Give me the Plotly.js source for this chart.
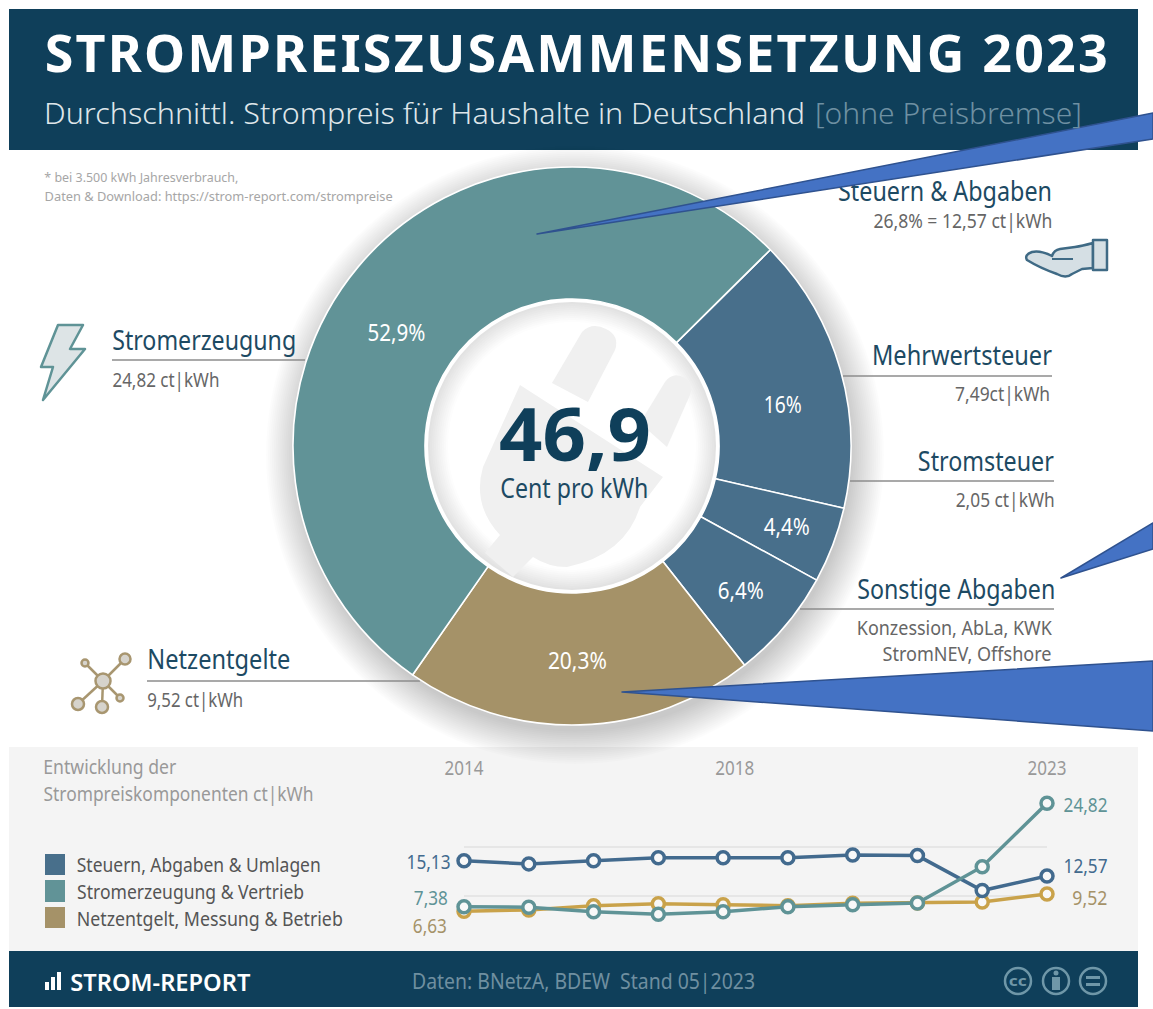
<!DOCTYPE html>
<html><head><meta charset="utf-8">
<script src="https://cdn.plot.ly/plotly-3.0.1.min.js"></script>
<style>html,body{margin:0;padding:0;background:#fff}#c{width:1153px;height:1009px}</style>
</head><body><div id="c"></div>
<script>
// --- data ---
const sliceLabels = ['Mehrwertsteuer','Stromsteuer','Sonstige Abgaben','Netzentgelte','Stromerzeugung'];
const sliceShares = [16, 4.4, 6.4, 20.3, 52.9];
const sliceColors = ['#486f8b','#486f8b','#486f8b','#a59268','#619397'];
const years = [2014,2015,2016,2017,2018,2019,2020,2021,2022,2023];
const steuern = [15.13,14.6,15.14,15.65,15.65,15.65,16.1,16.0,10.1,12.57];
const erzeugung = [7.38,7.3,6.54,6.1,6.54,7.38,7.72,8.0,14.13,24.82];
const netz = [6.63,6.83,7.55,7.89,7.72,7.55,7.95,8.0,8.18,9.52];
const tickYears = ['2014','2018','2023'];
const tickPositions = [2014,2018.18,2023];
const gridValues = [17.5,9.2];

const NAVY='#0f3f5a', DARK='#1d4a63', GREY='#666666', LIGHT='#a6a6a6';
const BLUE='#426a8e', TEAL='#5f9396', GOLD='#c9a24a', TAN='#a59268';

const X=x=>x/1153, Y=y=>1-y/1009;
const P=s=>s.replace(/(-?[\d.]+) (-?[\d.]+)/g,(m,a,b)=>X(+a).toFixed(5)+' '+Y(+b).toFixed(5));
const rect=(x0,y0,x1,y1,fill,layer)=>({type:'rect',xref:'paper',yref:'paper',x0:X(x0),x1:X(x1),y0:Y(y0),y1:Y(y1),fillcolor:fill,line:{width:0},layer:layer||'below'});
const circ=(cx,cy,r,fill,lc,lw)=>({type:'circle',xref:'paper',yref:'paper',x0:X(cx-r),x1:X(cx+r),y0:Y(cy-r),y1:Y(cy+r),fillcolor:fill,line:{color:lc||fill,width:lw===undefined?0:lw},layer:'below'});
const path=(d,fill,lc,lw,layer)=>({type:'path',xref:'paper',yref:'paper',path:P(d),fillcolor:fill||'rgba(0,0,0,0)',line:{color:lc||'rgba(0,0,0,0)',width:lw||0},layer:layer||'below'});
const rule=(x0,y,x1)=>({type:'line',xref:'paper',yref:'paper',x0:X(x0),x1:X(x1),y0:Y(y),y1:Y(y),line:{color:'#8c8c8c',width:1.5},layer:'below'});

const CX=572,CY=446,R=279,HOLE=147;
const shapes=[];
shapes.push(rect(9,9,1138,150,NAVY));
shapes.push(rect(9,747,1138,951,'#f4f4f4'));
// soft drop shadow round the ring
for(let i=0;i<18;i++){const r=R+30-i*1.9;shapes.push(circ(CX+3,CY+9,r,'rgba(0,0,0,0.013)'));}
shapes.push(rect(9,951,1138,1007,NAVY));
// centre disc
shapes.push(circ(CX,CY,HOLE+1,'#ffffff'));
for(let i=0;i<12;i++){const r=144-i*2;const c=Math.min(255,226+i*3);shapes.push(circ(CX,CY,r,`rgb(${c},${c},${c})`));}
// plug watermark
const PLUG='#f0f0f0';
shapes.push(path('M 552 383 L 582 332 Q 592 322 606 329 Q 620 336 615 350 L 588 402 Z',PLUG));
shapes.push(path('M 640 423 L 665 382 Q 673 371 685 378 Q 694 385 690 395 L 667 447 Z',PLUG));
shapes.push(path('M 520 385 L 663 477 L 640 507 Q 625 555 567 567 Q 548 567 533 557 L 513 577 L 485 553 L 500 535 Q 472 505 483 467 Z',PLUG));
// label rules
shapes.push(rule(112,360,305),rule(843,376,1052),rule(850,481,1054),rule(800,609,1054),rule(147,681,420));
// lightning icon
shapes.push(path('M 58 325 L 83 325 L 70 349 L 85 349 L 43 400 L 53 367 L 41 367 Z','#dde4e6',TEAL,2.5));
// hand icon
shapes.push(path('M 1093 243 Q 1082 246 1075 247 L 1060 249 Q 1054 250 1052 256 Q 1040 250 1032 252 Q 1024 255 1027 260 Q 1040 268 1057 274 Q 1066 279 1072 274 L 1082 269 L 1093 268 Z','#d5dfe4','#3f6a85',2.5));
shapes.push(path('M 1052 259 L 1073 259','', '#3f6a85',2));
shapes.push(path('M 1093 240 L 1107 240 L 1107 270 L 1093 270 Z','#d5dfe4','#3f6a85',2.5));
// network icon
const hub=[103,681], nodes=[[125,659,5.5],[85,663,3.5],[78,704,6],[102,707,6],[120,698,3.5]];
nodes.forEach(n=>shapes.push(path(`M ${hub[0]} ${hub[1]} L ${n[0]} ${n[1]}`,'','#a89670',2.5)));
nodes.forEach(n=>shapes.push(circ(n[0],n[1],n[2],'#d6d3cc','#a89670',2.5)));
shapes.push(circ(hub[0],hub[1],7.5,'#d6d3cc','#a89670',2.5));
// footer icons
const ICON='#6f97a8';
shapes.push(rect(45,982,49,990,'#fff'),rect(51,977,55,990,'#fff'),rect(57,972,61,990,'#fff'));
[1018,1056,1093].forEach(x=>shapes.push(circ(x,981,13,'rgba(0,0,0,0)',ICON,2.5)));
shapes.push(circ(1056,973,2.5,ICON),rect(1052,977,1060,990,ICON));
shapes.push(rect(1086,976,1100,979,ICON),rect(1086,983,1100,986,ICON));
// legend swatches
shapes.push(rect(45,854,65,875,'#486f8b'),rect(45,880,65,902,'#619397'),rect(45,907,65,928,'#a59268'));
// callout wedges, above the plot
const W='#4472c4',WL='#2f528f';
shapes.push(path('M 537 234 L 1153 113 L 1153 139 Z',W,WL,1.5,'above'));
shapes.push(path('M 1061 578 L 1153 523 L 1153 549 Z',W,WL,1.5,'above'));
shapes.push(path('M 622 692 L 1153 661 L 1153 731 Z',W,WL,1.5,'above'));

// [text, left, right, centre y, size, colour, weight]
const texts=[
 ['STROMPREISZUSAMMENSETZUNG 2023',44,1107,52,52,'#ffffff',700],
 ['Durchschnittl. Strompreis für Haushalte in Deutschland',44,805,112,30,'#dfe6ea',300],
 ['[ohne Preisbremse]',815,1082,112,30,'#6e90a2',300],
 ['* bei 3.500 kWh Jahresverbrauch,',44,238,177,13,LIGHT,400],
 ['Daten & Download: https://strom-report.com/strompreise',44,392,196,13,LIGHT,400],
 ['Stromerzeugung',112,296,339.5,27,DARK,400],
 ['24,82 ct|kWh',112,219,379,20,GREY,400],
 ['Netzentgelte',147,290,658.5,27,DARK,400],
 ['9,52 ct|kWh',147,243,699,20,GREY,400],
 ['26,8% = 12,57 ct|kWh',873,1052,221,19,GREY,400],
 ['Mehrwertsteuer',872,1052,354,27,DARK,400],
 ['7,49ct|kWh',955,1050,393,20,GREY,400],
 ['Stromsteuer',918,1054,460,27,DARK,400],
 ['2,05 ct|kWh',955,1054,500,20,GREY,400],
 ['Sonstige Abgaben',857,1055,588,27,DARK,400],
 ['Konzession, AbLa, KWK',857,1052,628,19,GREY,400],
 ['StromNEV, Offshore',883,1052,654,19,GREY,400],
 ['46,9',499,651,432,74,NAVY,700],
 ['Cent pro kWh',500,648,488,27,DARK,400],
 ['52,9%',367,425,332,23,'#ffffff',400],
 ['16%',763,801,404,23,'#ffffff',400],
 ['4,4%',764,810,526,23,'#ffffff',400],
 ['6,4%',718,764,590,23,'#ffffff',400],
 ['20,3%',548,607,660,23,'#ffffff',400],
 ['Entwicklung der',43,176,767,19,'#999999',400],
 ['Strompreiskomponenten ct|kWh',43,313,794,19,'#999999',400],
 ['Steuern, Abgaben & Umlagen',77,321,864,20,'#555555',400],
 ['Stromerzeugung & Vertrieb',77,304,891,20,'#555555',400],
 ['Netzentgelt, Messung & Betrieb',77,343,918,20,'#555555',400],
 ['15,13',406,450,861,20,BLUE,400],
 ['7,38',414,448,897,20,TEAL,400],
 ['6,63',413,447,925,20,TAN,400],
 ['24,82',1063,1107,804,20,TEAL,400],
 ['12,57',1063,1107,865,20,BLUE,400],
 ['9,52',1072,1107,897,20,TAN,400],
 ['STROM-REPORT',70,250,981,24,'#ffffff',600],
 ['Daten: BNetzA, BDEW  Stand 05|2023',412,755,981,21,'#6f8fa0',400],
 ['cc',1009,1027,980,15,ICON,700]
];
const FONT='"Noto Sans","Open Sans",sans-serif';
const annotations=texts.map(t=>({text:t[0].replace(/  /g,'\u00a0 '),xref:'paper',yref:'paper',x:X((t[1]+t[2])/2),y:Y(t[3]),xanchor:'center',yanchor:'middle',showarrow:false,font:{family:FONT,size:t[4],color:t[5],weight:t[6]}}));

const lineTrace=(y,c,name)=>({type:'scatter',mode:'lines+markers',x:years,y:y,name:name,cliponaxis:false,hoverinfo:'skip',
  line:{color:c,width:3.5},marker:{size:12,color:'#f8f8f8',line:{color:c,width:3.5}}});
const data=[
 {type:'pie',labels:sliceLabels,values:sliceShares,sort:false,direction:'clockwise',rotation:45.3,hole:HOLE/R,
  marker:{colors:sliceColors,line:{color:'#ffffff',width:1.6}},textinfo:'none',hoverinfo:'skip',showlegend:false,
  domain:{x:[X(CX-R),X(CX+R)],y:[Y(CY+R),Y(CY-R)]}},
 lineTrace(netz,GOLD,'Netzentgelt, Messung & Betrieb'),
 lineTrace(steuern,BLUE,'Steuern, Abgaben & Umlagen'),
 lineTrace(erzeugung,TEAL,'Stromerzeugung & Vertrieb'),
 {type:'scatter',mode:'text',x:[945],y:[194],text:['Steuern & Abgaben'],xaxis:'x2',yaxis:'y2',cliponaxis:false,hoverinfo:'skip',
  textposition:'middle center',textfont:{family:FONT,size:27,color:DARK}}
];
const layout={
 width:1153,height:1009,margin:{l:0,r:0,t:0,b:0,pad:0},paper_bgcolor:'#ffffff',plot_bgcolor:'rgba(0,0,0,0)',showlegend:false,
 xaxis:{domain:[X(464),X(1047)],range:[2014,2023],side:'top',anchor:'y',tickmode:'array',tickvals:tickPositions,ticktext:tickYears,
   showgrid:false,zeroline:false,showline:false,ticks:'',tickfont:{family:FONT,size:19,color:'#999999'}},
 yaxis:{domain:[Y(930),Y(780)],range:[3.45,28.75],anchor:'x',tickmode:'array',tickvals:gridValues,showticklabels:false,
   showgrid:true,gridcolor:'#e6e6e6',gridwidth:2,zeroline:false,showline:false,ticks:''},
 xaxis2:{domain:[0,1],range:[0,1153],visible:false,anchor:'y2',fixedrange:true},
 yaxis2:{domain:[0,1],range:[1009,0],visible:false,anchor:'x2',fixedrange:true},
 shapes:shapes,annotations:annotations
};
Plotly.newPlot('c',data,layout,{staticPlot:true,displayModeBar:false}).then(()=>{
 const fit=(el,w,mode)=>{if(!el)return;el.setAttribute('textLength',w);el.setAttribute('lengthAdjust',mode||'spacingAndGlyphs');};
 document.querySelectorAll('.annotation').forEach(g=>{
   const i=+g.getAttribute('data-index');const t=texts[i];
   fit(g.querySelector('text'),t[2]-t[1],i===0?'spacing':undefined);
 });
 document.querySelectorAll('.textpoint text').forEach(e=>fit(e,214));
 document.querySelectorAll('.xtick text').forEach(e=>fit(e,39));
 document.querySelectorAll('.shapelayer path').forEach(e=>{e.style.strokeLinejoin='round';});
});
</script></body></html>
